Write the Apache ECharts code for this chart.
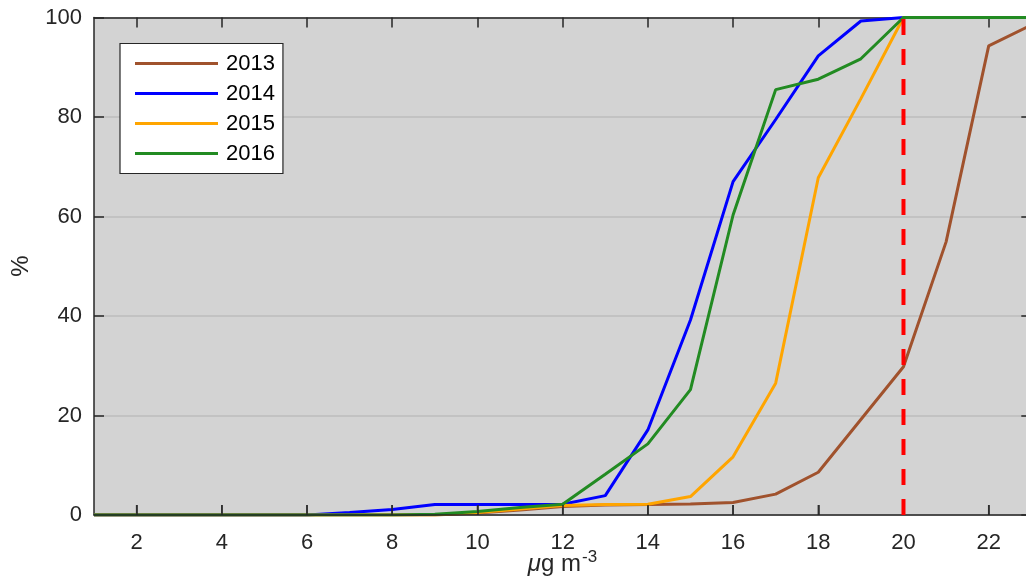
<!DOCTYPE html>
<html>
<head>
<meta charset="utf-8">
<script src="https://cdn.jsdelivr.net/npm/echarts@6/dist/echarts.min.js"></script>
<style>
  html, body { margin: 0; padding: 0; background: #ffffff; }
  #chart { width: 1026px; height: 584px; }
</style>
</head>
<body>
<div id="chart"></div>
<script>
// Concentration bins (µg m-3) and cumulative share (%) per year
const xBins = [1, 2, 3, 4, 5, 6, 7, 8, 9, 10, 11, 12, 13, 14, 15, 16, 17, 18, 19, 20, 21, 22, 23];
const years = ['2013', '2014', '2015', '2016'];
const values2013 = [0, 0, 0, 0, 0, 0, 0, 0, 0, 0.4, 1.0, 1.7, 2.0, 2.1, 2.2, 2.5, 4.2, 8.6, 19.2, 29.8, 54.9, 94.3, 98.5];
const values2014 = [0, 0, 0, 0, 0, 0, 0.5, 1.1, 2.1, 2.1, 2.1, 2.15, 3.9, 17.1, 39.2, 67.0, 79.5, 92.3, 99.3, 100, 100, 100, 100];
const values2015 = [0, 0, 0, 0, 0, 0, 0, 0, 0, 0.5, 1.2, 1.9, 2.1, 2.15, 3.7, 11.7, 26.5, 67.8, 83.7, 100, 100, 100, 100];
const values2016 = [0, 0, 0, 0, 0, 0, 0, 0, 0.15, 0.7, 1.5, 2.15, 8.2, 14.3, 25.2, 60.3, 85.5, 87.6, 91.7, 100, 100, 100, 100];
const xTicks = [2, 4, 6, 8, 10, 12, 14, 16, 18, 20, 22];
const yTicks = [0, 20, 40, 60, 80, 100];
const limitValue = 20;

const colors = ['#a0522d', '#0000ff', '#ffa500', '#228b22'];
const seriesValues = [values2013, values2014, values2015, values2016];
const FONT = "'Liberation Sans', Arial, Helvetica, sans-serif";
const AXIS_COLOR = '#262626';

const chart = echarts.init(document.getElementById('chart'), null, { renderer: 'canvas' });

function pairs(vals) {
  return xBins.map((x, i) => [x, vals[i]]);
}

const lineSeries = years.map((name, i) => ({
  name: name,
  type: 'line',
  xAxisIndex: 0,
  yAxisIndex: 0,
  data: pairs(seriesValues[i]),
  symbol: 'none',
  showSymbol: false,
  clip: true,
  z: 3 + i,
  lineStyle: { color: colors[i], width: 3 },
  itemStyle: { color: colors[i] },
  animation: false
}));

// vertical dashed limit line
lineSeries.push({
  name: 'limit',
  type: 'line',
  xAxisIndex: 0,
  yAxisIndex: 0,
  data: [[limitValue, 0], [limitValue, 100]],
  symbol: 'none',
  z: 10,
  lineStyle: { color: '#ff0000', width: 4, type: [16, 14] },
  animation: false
});

// inward tick marks along the bottom axis line
lineSeries.push({
  name: 'bottomTicks',
  type: 'scatter',
  xAxisIndex: 0,
  yAxisIndex: 0,
  data: xTicks.map(v => [v, 0]),
  symbol: 'rect',
  symbolSize: [1.5, 10],
  symbolOffset: [0, -5],
  clip: false,
  silent: true,
  z: 2,
  itemStyle: { color: AXIS_COLOR },
  animation: false
});

const tickStyle = { show: true, inside: true, length: 10, lineStyle: { color: AXIS_COLOR, width: 1.5 } };
const lineAxis = { show: true, onZero: false, lineStyle: { color: AXIS_COLOR, width: 1.5 } };

const option = {
  animation: false,
  backgroundColor: '#ffffff',
  grid: {
    left: 94, width: 937.3, top: 17.5, bottom: 69,
    outerBoundsMode: 'none',
    containLabel: false,
    z: 0,
    show: true, backgroundColor: '#d3d3d3', borderWidth: 0
  },
  legend: {
    data: years,
    orient: 'vertical',
    left: 120,
    top: 43.5,
    icon: 'rect',
    itemWidth: 83,
    itemHeight: 3,
    itemGap: 8,
    padding: [9, 8, 9, 15],
    backgroundColor: '#ffffff',
    borderColor: '#262626',
    borderWidth: 1.2,
    textStyle: { fontFamily: FONT, fontSize: 22, color: '#000000', lineHeight: 22, padding: [0, 0, 0, 3] }
  },
  xAxis: [
    {
      type: 'value', position: 'bottom', min: 1, max: 23, z: 10,
      axisLine: lineAxis,
      axisTick: Object.assign({}, tickStyle, { customValues: xTicks }),
      axisLabel: { customValues: xTicks, fontFamily: FONT, fontSize: 22, color: AXIS_COLOR, margin: 17 },
      splitLine: { show: false }
    },
    {
      type: 'value', position: 'top', min: 1, max: 23, z: 1,
      axisLine: lineAxis,
      axisTick: Object.assign({}, tickStyle, { customValues: xTicks }),
      axisLabel: { show: false, customValues: xTicks },
      splitLine: { show: false }
    }
  ],
  yAxis: [
    {
      type: 'value', position: 'left', min: 0, max: 100, interval: 20,
      axisLine: lineAxis,
      axisTick: tickStyle,
      axisLabel: { customValues: yTicks, fontFamily: FONT, fontSize: 22, color: AXIS_COLOR, margin: 12 },
      splitLine: { show: true, lineStyle: { color: '#bcbcbc', width: 1.5 } }
    },
    {
      type: 'value', position: 'right', min: 0, max: 100, interval: 20, z: 1,
      axisLine: lineAxis,
      axisTick: tickStyle,
      axisLabel: { show: false },
      splitLine: { show: false }
    }
  ],
  graphic: [
    {
      type: 'text', x: 581, y: 564.6,
      style: {
        text: '{i|μ}g m',
        align: 'right', verticalAlign: 'middle',
        fontFamily: FONT, fontSize: 24, fill: AXIS_COLOR,
        rich: { i: { fontStyle: 'italic', fontFamily: FONT, fontSize: 24, fill: AXIS_COLOR } }
      }
    },
    {
      type: 'text', x: 582, y: 557.4,
      style: { text: '-3', align: 'left', verticalAlign: 'middle', fontFamily: FONT, fontSize: 17, fill: AXIS_COLOR }
    },
    {
      type: 'text', x: 21, y: 266, rotation: Math.PI / 2,
      style: { text: '%', align: 'center', verticalAlign: 'middle', fontFamily: FONT, fontSize: 24, fill: AXIS_COLOR }
    }
  ],
  series: lineSeries
};

chart.setOption(option);
</script>
</body>
</html>
